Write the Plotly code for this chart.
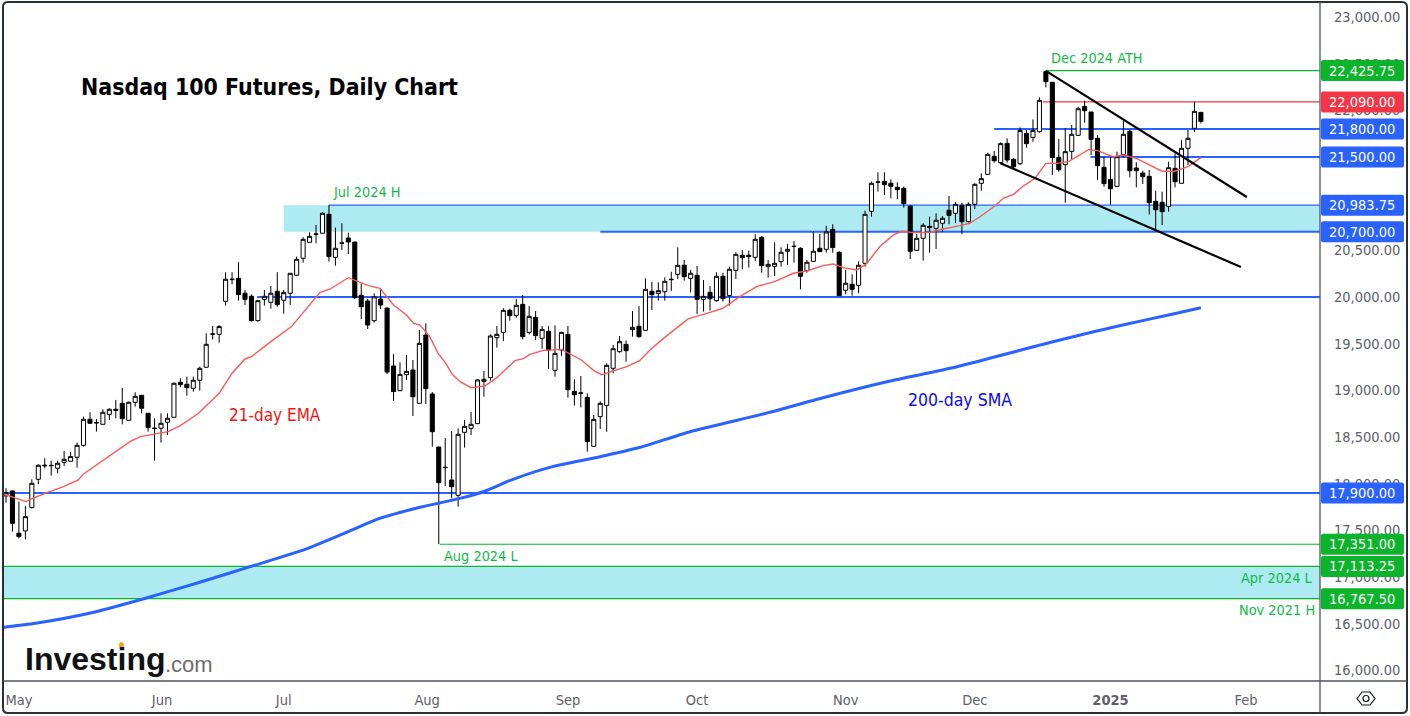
import plotly.graph_objects as go

TITLE = "Nasdaq 100 Futures, Daily Chart"

OPEN = [
17869,17922,17469,17494,17744,18047,18190,18197,18165,18229,
18240,18283,18411,18690,18650,18636,18743,18797,18861,18679,
18872,18947,18754,18590,18594,18658,18711,19086,19065,19022,
19108,19247,19600,19600,19954,20186,20200,20040,20008,19747,
19975,19943,20061,19965,20040,20233,20415,20586,20672,20683,
20886,20425,20575,20632,20589,20018,19957,19746,19978,19882,
19261,18996,19168,19218,18861,19593,18961,18393,18171,18039,
17875,18550,18593,18643,19096,19136,19564,19621,19857,19803,
19921,19621,19782,19557,19632,19214,19432,19600,18989,18968,
18925,18400,18718,18839,19236,19414,19493,19650,19686,19643,
20061,20039,20057,20185,20243,20340,20200,20232,19975,20050,
19961,20222,20015,20286,20447,20447,20425,20640,20325,20329,
20379,20490,20540,20522,20282,20382,20522,20511,20725,20479,
20072,20136,20125,20361,20918,21230,21239,21218,21175,21164,
20975,20500,20629,20757,20736,20790,20929,20897,20982,20807,
20993,21218,21314,21507,21439,21646,21475,21428,21753,21710,
21771,22414,22300,21496,21418,21560,21732,22042,21982,21700,
21389,21260,21185,21528,21775,21382,21328,21293,21025,21014,
20971,21378,21218,21593,21807,21978]
HIGH = [
17951,17925,17808,17762,18047,18208,18272,18247,18247,18351,
18340,18440,18719,18765,18693,18797,18808,18897,19026,18879,
18979,18947,18754,18701,18754,18754,19083,19129,19147,19147,
19254,19611,19690,19697,20265,20265,20372,20075,20029,19968,
20075,20118,20265,20075,20254,20433,20640,20693,20772,20908,
20984,20743,20790,20689,20589,20146,19978,20039,20093,19882,
19389,19300,19378,19325,19646,19718,18982,18393,18489,18564,
18593,18682,18768,19118,19207,19600,19689,19878,19875,19978,
20021,19903,19850,19689,19689,19696,19628,19689,19118,19153,
18968,18736,18882,19289,19486,19582,19532,19850,19903,20200,
20164,20157,20211,20271,20532,20397,20290,20332,20182,20118,
20265,20261,20325,20479,20504,20497,20672,20650,20397,20586,
20532,20568,20600,20532,20397,20707,20675,20761,20779,20490,
20290,20243,20382,20925,21236,21336,21336,21261,21229,21182,
20975,20675,20790,20861,20897,20868,21082,21018,21011,21014,
21218,21325,21546,21564,21657,21700,21485,21817,21789,21903,
22139,22426,22300,21693,21807,21842,22039,22103,21982,21735,
21503,21503,21557,21885,21796,21443,21353,21360,21139,21128,
21450,21539,21682,21789,22090,21978]
LOW = [
17797,17486,17415,17404,17736,17994,18165,18086,18111,18190,
18240,18172,18397,18647,18558,18636,18683,18701,18636,18679,
18826,18754,18558,18247,18440,18522,18711,19033,18943,18986,
18997,19247,19547,19511,19908,20136,19961,19915,19736,19736,
19908,19875,19897,19822,19915,20225,20368,20586,20575,20683,
20379,20336,20504,20460,19978,19764,19657,19725,19871,19175,
18886,18996,19111,18725,18861,18854,18396,17351,17975,17843,
17754,18386,18521,18643,18932,19104,19457,19528,19746,19778,
19546,19600,19539,19446,19228,19146,19368,18921,18836,18818,
18343,18400,18586,18557,19182,19403,19307,19575,19564,19643,
19861,19961,19961,20064,20193,20175,20050,19818,19843,19854,
19950,19950,19907,20193,20297,20315,20386,20261,20207,20225,
20325,20343,20368,20082,20261,20375,20486,20475,20475,20015,
20029,20015,20040,20325,20861,21129,21093,21057,21047,20957,
20407,20493,20390,20475,20515,20700,20779,20790,20675,20797,
20943,21139,21307,21439,21425,21439,21368,21414,21600,21664,
21760,22246,21307,21342,21010,21478,21725,21868,21521,21253,
21182,20989,21182,21496,21282,21175,21210,20885,20707,20771,
20914,21175,21218,21414,21768,21860]
CLOSE = [
17904,17576,17433,17647,18004,18197,18197,18193,18219,18261,
18290,18411,18690,18647,18654,18765,18797,18786,18697,18872,
18936,18808,18601,18594,18647,18701,19076,19061,19029,19108,
19236,19493,19604,19683,20190,20190,20025,19975,19747,19961,
20008,20040,19918,20047,20254,20404,20618,20650,20675,20897,
20433,20522,20579,20589,19993,19896,19700,20002,19914,19196,
18986,19171,19203,18932,19503,19018,18557,18011,18175,17968,
18529,18614,18636,19111,19118,19582,19600,19857,19800,19911,
19575,19793,19586,19653,19432,19396,19621,19007,18953,18972,
18450,18689,18861,19268,19446,19521,19425,19675,19575,20082,
20025,20068,20168,20189,20339,20218,20254,19975,20007,19982,
20222,19982,20297,20457,20422,20432,20618,20336,20350,20361,
20479,20511,20543,20222,20372,20490,20486,20697,20529,20015,
20147,20082,20340,20886,21218,21232,21204,21186,21150,21000,
20490,20629,20768,20743,20822,20843,20875,20993,20807,20993,
21207,21268,21528,21460,21643,21468,21396,21785,21643,21785,
22107,22307,21493,21364,21557,21743,22017,21996,21689,21407,
21214,21160,21503,21743,21353,21353,21289,21010,20935,20914,
21385,21235,21593,21700,21989,21882]
assert len(OPEN) == len(HIGH) == len(LOW) == len(CLOSE) == 186

EMA_AT = [-0.4,1.1,3.1,4.2,6.3,8.9,11.2,12,14,16.9,19.2,20.8,25.1,27,29.8,33,35,37,38,41,44.2,48.6,50.2,53,56.1,57.9,60,62,63.1,64.1,65.6,66.9,68,69.1,70.3,72,74.1,76,78.8,80.1,81.1,83.2,86,89.1,91,92.2,94,96.1,98.1,99.7,101.8,104.3,105.6,109,111,113.6,116.2,119,121.9,124,126.5,128.1,129.6,131.7,133.2,135.3,137.4,138.7,140.5,143,145.1,147.7,149.2,150.8,153.1,154.4,156,157.5,159.3,161,162.7,164.5,166.3,167.6,168.9,171.4,173,175,177.1,178.9,180.7,183,185]
EMA = [17890,17854,17808,17844,17904,17968,18040,18104,18200,18344,18451,18504,18558,18622,18754,18968,19183,19336,19361,19522,19683,20047,20086,20207,20121,20093,19914,19807,19718,19700,19575,19396,19300,19171,19093,19028,19046,19136,19318,19339,19386,19428,19439,19325,19211,19168,19211,19253,19318,19432,19557,19700,19765,19836,19879,20004,20111,20165,20254,20279,20336,20354,20315,20290,20354,20540,20665,20704,20690,20693,20729,20765,20790,20860,20975,21057,21100,21189,21271,21432,21432,21450,21521,21578,21571,21503,21521,21485,21414,21350,21342,21396,21493]

SMA_AT = [-0.4,4.6,12.9,21.2,29.5,37.8,46.1,53.6,57.4,64.1,70.3,73.9,78.5,84.2,92,98.2,105.9,118.3,126.5,136.9,146.2,152.3,162.7,172.9,180.7,185]
SMA = [16461,16504,16611,16765,16933,17111,17290,17504,17618,17747,17843,17914,18047,18175,18289,18390,18557,18765,18921,19100,19236,19343,19532,19700,19818,19885]

# channel drawn on the chart: (candle index, price)
CHANNEL_UP_AT = [161, 192.1]
CHANNEL_UP = [22422, 21071]
CHANNEL_LOW_AT = [153.9, 191.2]
CHANNEL_LOW = [21436, 20321]

# horizontal levels: starting candle, price
BLUE_LEVEL_FROM = [-1, 38.9, 92, 153, 167.9]
BLUE_LEVEL = [17900, 20000, 20700, 21800, 21500]
ZONE_HIGH_FROM = 43
ZONE_HIGH = [20983.75, 20700]
ZONE_HIGH_LINE_FROM = 50
ZONE_LOW = [17113.25, 16767.5]
AUG_LOW, AUG_LOW_FROM = 17351, 67.2
ATH, ATH_FROM = 22425.75, 161
RED_LEVEL, RED_FROM = 22090, 160.5

TAG_PRICES = [22425.75, 22090, 21800, 21500, 20983.75, 20700, 17900, 17351, 17113.25, 16767.5]
TAG_KINDS = ["g", "r", "b", "b", "b", "b", "b", "g", "g", "g"]

MONTH_AT = [2, 24.15, 43, 65.2, 87, 107, 130, 150, 171, 192]
MONTH_TEXT = ["May", "Jun", "Jul", "Aug", "Sep", "Oct", "Nov", "Dec", "<b>2025</b>", "Feb"]

BLUE, GREEN, RED, ZONE = "#2962FF", "#0BB42B", "#F23645", "#AEEAF1"
LABEL_GREEN = "#10BB45"
FONT = "DejaVu Sans Condensed, DejaVu Sans"
TEXTC = "#5D606B"
AXC = "#50535E"

L, R, T, B = 4, 1320, 4, 681
YMIN, YMAX = 15886, 23139
XMIN, XMAX = -0.31, 203.44

def fx(x):
    return (x - L) / (R - L)

def fy(y):
    return (B - y) / (B - T)

def yof(p):
    return T + (YMAX - p) / (YMAX - YMIN) * (B - T)

def rrect(x0, y0, x1, y1, r):
    return (f"M{fx(x0+r)},{fy(y0)} L{fx(x1-r)},{fy(y0)} Q{fx(x1)},{fy(y0)} {fx(x1)},{fy(y0+r)} "
            f"L{fx(x1)},{fy(y1-r)} Q{fx(x1)},{fy(y1)} {fx(x1-r)},{fy(y1)} "
            f"L{fx(x0+r)},{fy(y1)} Q{fx(x0)},{fy(y1)} {fx(x0)},{fy(y1-r)} "
            f"L{fx(x0)},{fy(y0+r)} Q{fx(x0)},{fy(y0)} {fx(x0+r)},{fy(y0)} Z")

fig = go.Figure()
fig.add_trace(go.Candlestick(
    x=list(range(len(OPEN))), open=OPEN, high=HIGH, low=LOW, close=CLOSE,
    whiskerwidth=0,
    increasing=dict(line=dict(color="#000000", width=1), fillcolor="#FFFFFF"),
    decreasing=dict(line=dict(color="#000000", width=1), fillcolor="#000000"),
    hoverinfo="skip", showlegend=False))
fig.add_trace(go.Scatter(x=SMA_AT, y=SMA, mode="lines", line=dict(color=BLUE, width=3, shape="spline", smoothing=0.6), hoverinfo="skip", showlegend=False))
fig.add_trace(go.Scatter(x=EMA_AT, y=EMA, mode="lines", line=dict(color="#FA5A55", width=1.4), hoverinfo="skip", showlegend=False))
fig.add_trace(go.Scatter(x=CHANNEL_UP_AT, y=CHANNEL_UP, mode="lines", line=dict(color="#000000", width=2.2), hoverinfo="skip", showlegend=False))
fig.add_trace(go.Scatter(x=CHANNEL_LOW_AT, y=CHANNEL_LOW, mode="lines", line=dict(color="#000000", width=2.2), hoverinfo="skip", showlegend=False))

shapes = []
def band(x0, lo, hi):
    shapes.append(dict(type="rect", xref="x", yref="y", x0=x0, x1=XMAX, y0=lo, y1=hi,
                       fillcolor=ZONE, line=dict(width=0), layer="below"))
def level(x0, p, color, w):
    shapes.append(dict(type="line", xref="x", yref="y", x0=x0, x1=XMAX, y0=p, y1=p,
                       line=dict(color=color, width=w), layer="below"))

band(ZONE_HIGH_FROM, ZONE_HIGH[1], ZONE_HIGH[0])
band(XMIN, ZONE_LOW[1], ZONE_LOW[0])
level(ZONE_HIGH_LINE_FROM, ZONE_HIGH[0], BLUE, 1.3)
for x0, p in zip(BLUE_LEVEL_FROM, BLUE_LEVEL):
    level(x0, p, BLUE, 2)
for p in ZONE_LOW:
    level(XMIN, p, GREEN, 1.2)
level(AUG_LOW_FROM, AUG_LOW, GREEN, 1.2)
level(ATH_FROM, ATH, GREEN, 1.2)
level(RED_FROM, RED_LEVEL, RED, 1.2)

annos = []
def label(text, x, y, color, size, anchor="left", weight=None):
    annos.append(dict(text=text, xref="paper", yref="paper", x=fx(x), y=fy(y), showarrow=False,
                      xanchor=anchor, yanchor="middle", align=anchor,
                      font=dict(family=FONT, size=size, color=color, weight=weight)))

TAGC = {"g": GREEN, "r": RED, "b": BLUE}
for p, k in zip(TAG_PRICES, TAG_KINDS):
    yy = yof(p)
    shapes.append(dict(type="path", xref="paper", yref="paper", path=rrect(1321, yy - 10.5, 1404, yy + 10.5, 2),
                       fillcolor=TAGC[k], line=dict(width=0), layer="above"))
    label(f"{p:,.2f}", 1362.5, yy, "#FFFFFF", 14.5, "center")

label(TITLE, 79, 87, "#000000", 22.9, "left", "bold")
label("Dec 2024 ATH", 1049, 58, LABEL_GREEN, 14.4)
label("Jul 2024 H", 331, 192, LABEL_GREEN, 14.4)
label("Aug 2024 L", 442, 556, LABEL_GREEN, 14.4)
label("Apr 2024 L", 1239, 578, LABEL_GREEN, 14.4)
label("Nov 2021 H", 1237, 610, LABEL_GREEN, 14.4)
label("21-day EMA", 227, 415, "#F01414", 17)
label("200-day SMA", 906, 400, "#0A0AF0", 17.5)

# logo
annos.append(dict(text="<b>Investing</b>", xref="paper", yref="paper", x=fx(23), y=fy(659), showarrow=False,
                  xanchor="left", yanchor="middle", font=dict(family="Liberation Sans", size=32, color="#111111")))
annos.append(dict(text=".com", xref="paper", yref="paper", x=fx(163), y=fy(664), showarrow=False,
                  xanchor="left", yanchor="middle", font=dict(family="Liberation Sans", size=22, color="#6E6E6E")))
shapes.append(dict(type="circle", xref="paper", yref="paper", x0=fx(119), x1=fx(124), y0=fy(648), y1=fy(642),
                   fillcolor="#F5A623", line=dict(width=0), layer="above"))

# frame, separators, settings icon
shapes.append(dict(type="path", xref="paper", yref="paper", path=rrect(3, 2, 1407, 713, 5),
                   line=dict(color="#2A2E39", width=2), layer="above"))
shapes.append(dict(type="line", xref="paper", yref="paper", x0=fx(R), x1=fx(R), y0=fy(2), y1=fy(713),
                   line=dict(color=AXC, width=1.3), layer="above"))
shapes.append(dict(type="line", xref="paper", yref="paper", x0=fx(3), x1=fx(1407), y0=fy(B), y1=fy(B),
                   line=dict(color=AXC, width=1.3), layer="above"))
hexpts = [(1357, 698.5), (1362, 692), (1370, 692), (1375, 698.5), (1370, 705), (1362, 705)]
shapes.append(dict(type="path", xref="paper", yref="paper",
                   path="M" + " L".join(f"{fx(a)},{fy(b)}" for a, b in hexpts) + " Z",
                   line=dict(color="#131722", width=1.2), layer="above"))
shapes.append(dict(type="circle", xref="paper", yref="paper", x0=fx(1363), x1=fx(1369), y0=fy(701.5), y1=fy(695.5),
                   line=dict(color="#131722", width=1.2), layer="above"))

fig.update_layout(
    width=1410, height=716, margin=dict(l=L, r=1410 - R, t=T, b=716 - B, pad=0),
    paper_bgcolor="#FFFFFF", plot_bgcolor="#FFFFFF", showlegend=False, hovermode=False,
    boxgap=0.1, boxgroupgap=0.3,
    shapes=shapes, annotations=annos,
    font=dict(family=FONT, size=14.5, color=TEXTC),
    xaxis=dict(range=[XMIN, XMAX], rangeslider=dict(visible=False), showgrid=False, zeroline=False,
               tickmode="array", tickvals=MONTH_AT, ticktext=MONTH_TEXT, ticks="outside", ticklen=6,
               tickcolor="rgba(0,0,0,0)", tickfont=dict(family=FONT, size=14.5, color=TEXTC)),
    yaxis=dict(range=[YMIN, YMAX], side="right", showgrid=False, zeroline=False, dtick=500, tick0=16000,
               tickformat=",.2f", ticks="outside", ticklen=10, tickcolor="rgba(0,0,0,0)",
               tickfont=dict(family=FONT, size=14.5, color=TEXTC)),
)
fig.write_html("out.html", config={"displayModeBar": False},
               post_script="document.body.style.margin='0';document.documentElement.style.overflow='hidden';")
